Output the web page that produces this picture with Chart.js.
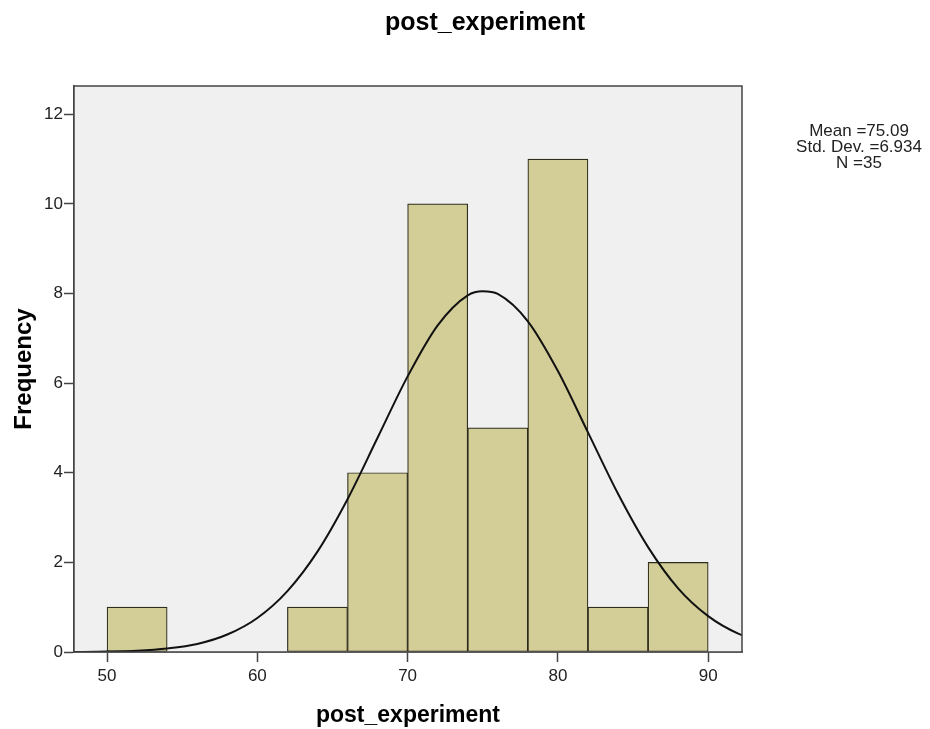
<!DOCTYPE html>
<html>
<head>
<meta charset="utf-8">
<script src="https://cdn.jsdelivr.net/npm/chart.js@4/dist/chart.umd.min.js"></script>
<style>
	body { margin: 0; background: #fff; }
	#wrap { width: 930px; height: 729px; }
</style>
</head>
<body>
<div id="wrap"><canvas id="hist" width="930" height="729"></canvas></div>
<script>
// histogram bins (centre of each 4-wide bin) and counts
const binCentres = [52, 56, 60, 64, 68, 72, 76, 80, 84, 88];
const binCounts = [1, 0, 0, 1, 4, 10, 5, 11, 1, 2];

// normal curve
const curveX = [46, 48, 50, 52, 54, 56, 58, 60, 62, 64, 66, 68, 70, 72, 74, 75, 76, 78, 80, 82, 84, 86, 88, 90, 92, 94];
const curveY = [0.00, 0.00, 0.01, 0.03, 0.08, 0.18, 0.39, 0.76, 1.36, 2.24, 3.41, 4.78, 6.15, 7.29, 7.96, 8.05, 7.99, 7.38, 6.27, 4.90, 3.53, 2.34, 1.42, 0.80, 0.41, 0.20];

const xTicks = [50, 60, 70, 80, 90];
const yTicks = [0, 2, 4, 6, 8, 10, 12];

const statsLines = ["Mean =75.09", "Std. Dev. =6.934", "N =35"];
const chartTitle = "post_experiment";

const font_family = "'Liberation Sans', Arial, sans-serif";

let frame_plugin = {
	id: 'frame',
	beforeDatasetsDraw: (chart) => {
		const { ctx, chartArea: a } = chart;
		ctx.save();
		ctx.fillStyle = "#f0f0f0";
		ctx.fillRect(a.left, a.top, a.right - a.left, a.bottom - a.top);
		ctx.restore();
	},
	afterDraw: (chart) => {
		const { ctx, chartArea: a } = chart;
		ctx.save();
		ctx.strokeStyle = "#444";
		ctx.lineWidth = 1.5;
		ctx.strokeRect(a.left, a.top, a.right - a.left, a.bottom - a.top);

		ctx.fillStyle = "#000";
		ctx.textAlign = "center";
		ctx.textBaseline = "middle";
		ctx.font = "bold 25px " + font_family;
		ctx.fillText(chartTitle, 485, 23);

		ctx.fillStyle = "#222";
		ctx.font = "17px " + font_family;
		statsLines.forEach((line, i) => {
			ctx.fillText(line, 859, 131 + i * 16);
		});
		ctx.restore();
	}
};

const config = {
	type: 'bar',
	data: {
		datasets: [
			{
				type: 'line',
				label: "normal",
				data: curveX.map((x, i) => ({ x: x, y: curveY[i] })),
				borderColor: "#111",
				borderWidth: 2,
				pointRadius: 0,
				fill: false,
				cubicInterpolationMode: 'monotone',
				order: 0
			},
			{
				label: "post_experiment",
				data: binCentres.map((x, i) => ({ x: x, y: binCounts[i] })),
				backgroundColor: "#d3ce98",
				borderColor: "#2e2c1c",
				borderWidth: 1.2,
				borderSkipped: false,
				barPercentage: 1,
				categoryPercentage: 1,
				order: 1
			}
		]
	},
	options: {
		responsive: false,
		animation: false,
		devicePixelRatio: 1,
		layout: {
			padding: { top: 86, right: 188, bottom: 0, left: 0 }
		},
		plugins: {
			legend: { display: false },
			tooltip: { enabled: false },
			title: { display: false }
		},
		scales: {
			x: {
				type: 'linear',
				offset: false,
				min: 47.8,
				max: 92.25,
				afterBuildTicks: (scale) => {
					scale.ticks = xTicks.map(v => ({ value: v }));
				},
				afterFit: (scale) => { scale.height = 77; },
				grid: {
					offset: false,
					drawOnChartArea: false,
					drawTicks: true,
					tickLength: 10,
					tickWidth: 1.5,
					color: "#444"
				},
				border: { display: true, color: "#444", width: 1.5 },
				ticks: {
					color: "#222",
					padding: 4,
					maxRotation: 0,
					font: { family: font_family, size: 17 }
				},
				title: {
					display: true,
					text: "post_experiment",
					color: "#000",
					padding: { top: 0, bottom: 0 },
					font: { family: font_family, size: 23, weight: 'bold' }
				}
			},
			y: {
				min: 0,
				max: 12.63,
				afterBuildTicks: (scale) => {
					scale.ticks = yTicks.map(v => ({ value: v }));
				},
				afterFit: (scale) => { scale.width = 74; },
				grid: {
					drawOnChartArea: false,
					drawTicks: true,
					tickLength: 10,
					tickWidth: 1.5,
					color: "#444"
				},
				border: { display: true, color: "#444", width: 1.5 },
				ticks: {
					color: "#222",
					padding: 1,
					font: { family: font_family, size: 17 }
				},
				title: {
					display: true,
					text: "Frequency",
					color: "#000",
					padding: { top: 10, bottom: 0 },
					font: { family: font_family, size: 24, weight: 'bold' }
				}
			}
		}
	},
	plugins: [frame_plugin]
};

new Chart(document.getElementById("hist"), config);
</script>
</body>
</html>
